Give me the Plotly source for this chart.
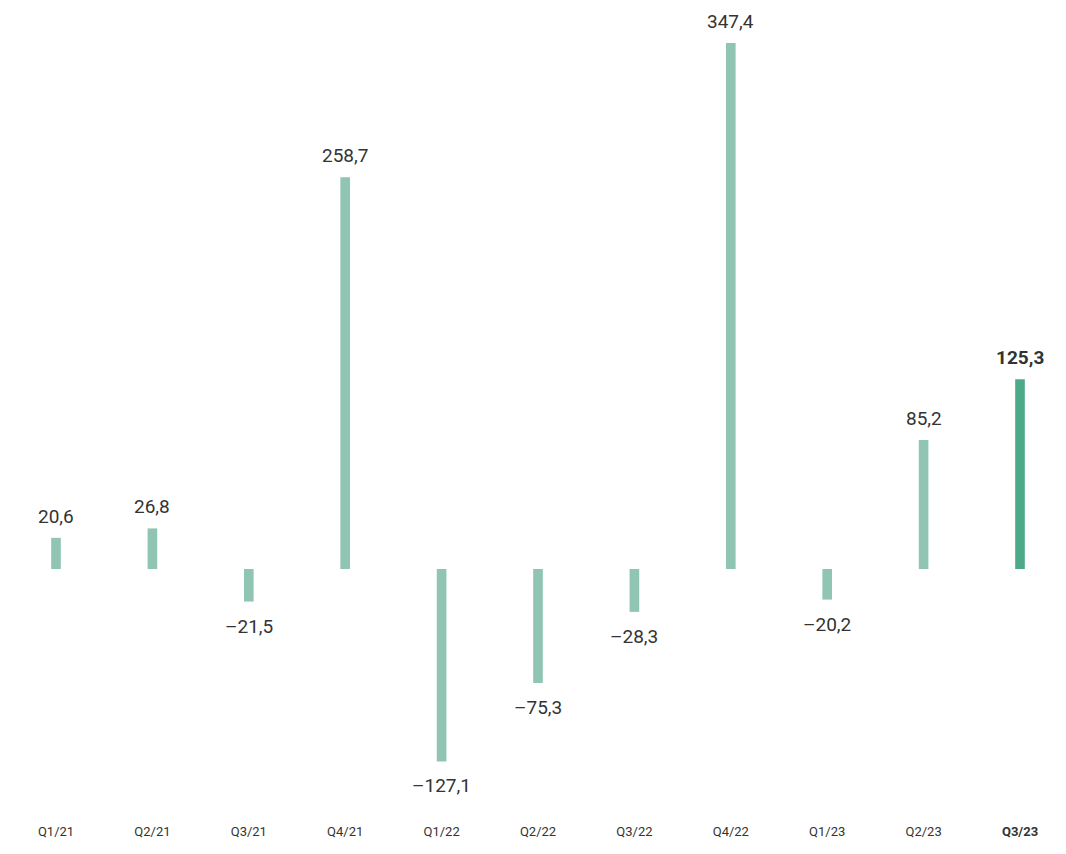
import plotly.graph_objects as go

categories = ["Q1/21", "Q2/21", "Q3/21", "Q4/21", "Q1/22", "Q2/22", "Q3/22", "Q4/22", "Q1/23", "Q2/23", "Q3/23"]
values = [20.6, 26.8, -21.5, 258.7, -127.1, -75.3, -28.3, 347.4, -20.2, 85.2, 125.3]
highlight = "Q3/23"

LIGHT = "#8FC5B2"
DARK = "#4DAA88"
TEXT = "#333333"

def fmt(v):
    s = f"{abs(v):.1f}".replace(".", ",")
    return ("\u2013" + s) if v < 0 else s

labels = []
colors = []
ticktext = []
for c, v in zip(categories, values):
    t = fmt(v)
    if c == highlight:
        labels.append(f"<b>{t}</b>")
        colors.append(DARK)
        ticktext.append(f"<b>{c}</b>")
    else:
        labels.append(t)
        colors.append(LIGHT)
        ticktext.append(c)

xs = list(range(len(categories)))

fig = go.Figure(go.Bar(
    x=xs, y=values, width=0.1,
    marker=dict(color=colors, line=dict(width=0)),
    hoverinfo="skip",
))

for x, v, t in zip(xs, values, labels):
    fig.add_annotation(
        x=x, y=v, text=t, showarrow=False,
        yanchor="bottom" if v >= 0 else "top",
        yshift=8 if v >= 0 else -11,
        font=dict(family="Roboto", size=19, color=TEXT),
    )

W, H = 1050, 838
px_per_unit = 96.4
zero_px = 561
scale = 1.514
fig.update_layout(
    width=W, height=H,
    margin=dict(l=0, r=0, t=2, b=24),
    paper_bgcolor="white", plot_bgcolor="white",
    showlegend=False,
    xaxis=dict(
        range=[-48 / px_per_unit, (W - 48) / px_per_unit],
        tickmode="array", tickvals=xs, ticktext=ticktext,
        tickfont=dict(family="Roboto", size=13, color=TEXT),
        showgrid=False, zeroline=False, showline=False, ticks="",
    ),
    yaxis=dict(
        range=[-(814 - zero_px) / scale, (zero_px - 2) / scale],
        visible=False, showgrid=False, zeroline=False,
    ),
)

fig.write_html("out.html")
